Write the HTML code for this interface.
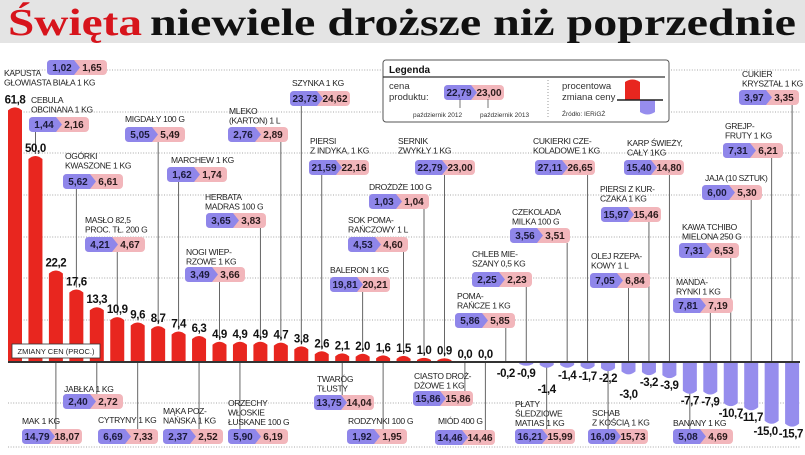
<!DOCTYPE html>
<html><head><meta charset="utf-8"><style>
html,body{margin:0;padding:0;background:#fff;}
svg{display:block;font-family:"Liberation Sans",sans-serif;}
</style></head><body>
<svg id="chart" width="805" height="455" viewBox="0 0 805 455">
<rect x="0" y="0" width="805" height="43" fill="#e4e4e4"/>
<text x="8" y="35" font-family="Liberation Serif,serif" font-weight="bold" font-size="38" fill="#d7141c" textLength="134" lengthAdjust="spacingAndGlyphs">Święta</text>
<text x="150" y="35" font-family="Liberation Serif,serif" font-weight="bold" font-size="38" fill="#111" textLength="646" lengthAdjust="spacingAndGlyphs">niewiele droższe niż poprzednie</text>
<g id="grid"></g>
<g id="conn"></g>
<g id="bars"></g>
<g id="labels"></g>
<g id="legend">
<rect x="383" y="60" width="286" height="62" rx="3" fill="#fff" stroke="#555" stroke-width="1"/>
<text x="389" y="73" font-size="10" font-weight="bold" fill="#111">Legenda</text>
<line x1="383" y1="77" x2="665" y2="77" stroke="#333" stroke-width="1.2"/>
<text x="389" y="89" font-size="9.5" fill="#333">cena</text>
<text x="389" y="100" font-size="9.5" fill="#333">produktu:</text>
<g id="legpill"></g>
<line x1="460" y1="99" x2="460" y2="108" stroke="#555" stroke-width="0.8"/>
<line x1="488" y1="99" x2="488" y2="108" stroke="#555" stroke-width="0.8"/>
<text x="413" y="117" font-size="6.5" fill="#333">październik 2012</text>
<text x="480" y="117" font-size="6.5" fill="#333">październik 2013</text>
<line x1="548" y1="80" x2="548" y2="118" stroke="#999" stroke-dasharray="1,2"/>
<text x="562" y="89" font-size="9.5" fill="#333">procentowa</text>
<text x="562" y="100" font-size="9.5" fill="#333">zmiana ceny</text>
<path d="M625 100 L625 82 Q632.5 77 640 82 L640 100 Z" fill="#e8261f"/>
<path d="M640 100 L640 112 Q647.5 117 655 112 L655 100 Z" fill="#968ded"/>
<line x1="617" y1="100" x2="663" y2="100" stroke="#222" stroke-width="1.5"/>
<text x="562" y="116" font-size="6.5" fill="#333">Źródło: IERiGŻ</text>
</g>
<rect x="12" y="344" width="88" height="14" fill="#fff" stroke="#333" stroke-width="0.8"/>
<text x="56" y="354" font-size="7.5" text-anchor="middle" fill="#222">ZMIANY CEN (PROC.)</text>
<line x1="8" y1="362" x2="800" y2="362" stroke="#333" stroke-width="2"/>
</svg>
<script>
const categories = ["KAPUSTA|GŁOWIASTA BIAŁA 1 KG","CEBULA|OBCINANA 1 KG","MAK 1 KG","OGÓRKI|KWASZONE 1 KG","JABŁKA 1 KG","MASŁO 82,5|PROC. TŁ. 200 G","CYTRYNY 1 KG","MIGDAŁY 100 G","MARCHEW 1 KG","MĄKA POZ-|NAŃSKA 1 KG","NOGI WIEP-|RZOWE 1 KG","ORZECHY|WŁOSKIE|ŁUSKANE 100 G","HERBATA|MADRAS 100 G","MLEKO|(KARTON) 1 L","SZYNKA 1 KG","PIERSI|Z INDYKA, 1 KG","TWARÓG|TŁUSTY","BALERON 1 KG","RODZYNKI 100 G","SOK POMA-|RAŃCZOWY 1 L","DROŻDŻE 100 G","SERNIK|ZWYKŁY 1 KG","CIASTO DROŻ-|DŻOWE 1 KG","MIÓD 400 G","POMA-|RAŃCZE 1 KG","CHLEB MIE-|SZANY 0,5 KG","PŁATY|ŚLEDZIOWE|MATIAS 1 KG","CZEKOLADA|MILKA 100 G","CUKIERKI CZE-|KOLADOWE 1 KG","SCHAB|Z KOŚCIĄ 1 KG","OLEJ RZEPA-|KOWY 1 L","PIERSI Z KUR-|CZAKA 1 KG","KARP ŚWIEŻY,|CAŁY 1KG","BANANY 1 KG","MANDA-|RYNKI 1 KG","KAWA TCHIBO|MIELONA 250 G","JAJA (10 SZTUK)","GREJP-|FRUTY 1 KG","CUKIER|KRYSZTAŁ 1 KG"];
const changes = [61.8,50.0,22.2,17.6,13.3,10.9,9.6,8.7,7.4,6.3,4.9,4.9,4.9,4.7,3.8,2.6,2.1,2.0,1.6,1.5,1.0,0.9,0.0,0.0,-0.2,-0.9,-1.4,-1.4,-1.7,-2.2,-3.0,-3.2,-3.9,-7.7,-7.9,-10.7,-11.7,-15.0,-15.7];
const price2012 = ["1,02","1,44","14,79","5,62","2,40","4,21","6,69","5,05","1,62","2,37","3,49","5,90","3,65","2,76","23,73","21,59","13,75","19,81","1,92","4,53","1,03","22,79","15,86","14,46","5,86","2,25","16,21","3,56","27,11","16,09","7,05","15,97","15,40","5,08","7,81","7,31","6,00","7,31","3,97"];
const price2013 = ["1,65","2,16","18,07","6,61","2,72","4,67","7,33","5,49","1,74","2,52","3,66","6,19","3,83","2,89","24,62","22,16","14,04","20,21","1,95","4,60","1,04","23,00","15,86","14,46","5,85","2,23","15,99","3,51","26,65","15,73","6,84","15,46","14,80","4,69","7,19","6,53","5,30","6,21","3,35"];
/* layout only (not data): label x, label baseline, pill x, pill y */
const layout = [[4,76,47,60],[31,103,29,117],[22,424,22,429],[65,159,63,174],[64,392,63,394],[85,223,85,237],[98,423,98,429],[125,122,125,127],[171,163,167,167],[163,414,163,429],[186,255,185,267],[228,406,228,429],[205,200,206,213],[229,114,228,127],[292,86,290,91],[310,144,309,160],[317,382,314,395],[330,273,330,277],[348,424,347,429],[348,223,348,237],[369,190,369,194],[398,144,415,160],[414,379,413,391],[438,424,435,430],[457,299,455,313],[472,257,472,272],[515,407,515,429],[512,215,510,228],[533,144,535,160],[592,416,588,429],[591,259,590,273],[600,192,601,207],[627,146,624,160],[673,426,673,429],[676,285,673,298],[682,230,679,243],[705,181,702,185],[725,129,723,143],[742,77,739,90]];
const NS = "http://www.w3.org/2000/svg";
const BASE = 362, SCALE = 4.12, X0 = 15, STEP = 20.45, BW = 14;
const xPos = i => X0 + STEP * i;
const yPos = v => BASE - v * SCALE;
function mk(tag, attrs, parent){ const e=document.createElementNS(NS,tag); for(const k in attrs) e.setAttribute(k,attrs[k]); parent.appendChild(e); return e; }
const grid=document.getElementById('grid'), conn=document.getElementById('conn'), bars=document.getElementById('bars'), labels=document.getElementById('labels');
[70,112,153,195,237,278,320,403,447].forEach(y=>{
  const l=mk('line',{x1:8,y1:y,x2:800,y2:y,stroke:'#8a8a8a','stroke-width':0.8,'stroke-dasharray':'1,1.6'},grid);
  
  
});
function pill(px,py,a,b,parent,name){
  const g=mk('g',{},parent);
  
  
  mk('rect',{x:px,y:py,width:60,height:15,rx:4,fill:'#f2b6bb'},g);
  mk('path',{d:`M${px+4} ${py} L${px+27} ${py} L${px+33} ${py+7.5} L${px+27} ${py+15} L${px+4} ${py+15} Q${px} ${py+15} ${px} ${py+11} L${px} ${py+4} Q${px} ${py} ${px+4} ${py} Z`,fill:'#8f86ea'},g);
  const t1=mk('text',{x:px+15,y:py+11,'font-size':10,'font-weight':'bold','text-anchor':'middle',fill:'#1a1a3a'},g); t1.textContent=a;
  const t2=mk('text',{x:px+45,y:py+11,'font-size':10,'font-weight':'bold','text-anchor':'middle',fill:'#2a1a1a'},g); t2.textContent=b;
}
pill(444,85,"22,79","23,00",document.getElementById('legpill'),'legend-price-pill');
changes.forEach((v,i)=>{
  const x=xPos(i), y=yPos(v), L=layout[i];
  const bottom = L[3] > BASE;
  if(i>0){
    let y1,y2;
    if(bottom){ y1=BASE; y2=L[3]; }
    else { y1=L[3]+15; y2= v>0 ? y-2 : BASE; }
    const c=mk('line',{x1:x,y1:y1,x2:x,y2:y2,stroke:'#555','stroke-width':0.9},conn);
    
    
  }
  if(v!==0){
    const x0=x-BW/2, x1=x+BW/2;
    let d;
    if(v>0){ const r=Math.min(3,(BASE-y)/2); d=`M${x0} ${BASE} L${x0} ${y+r} Q${x} ${y-r} ${x1} ${y+r} L${x1} ${BASE} Z`; }
    else { const r=Math.min(3,(y-BASE)/2); d=`M${x0} ${BASE} L${x0} ${y-r} Q${x} ${y+r} ${x1} ${y-r} L${x1} ${BASE} Z`; }
    const b=mk('path',{d:d,fill:v>0?'#e8261f':'#968ded'},bars);
    
    
  }
  let vy, vx=x, anchor='middle';
  if(v>=0) vy = Math.min(y-4, 358);
  else {
    vy = Math.max(y+11, 377);
    if(i===26) vy=393;
    if(i===30) vy=398;
    if(vy>447) vy=447;
    if(i===changes.length-2) vx=x-6;
    if(i===changes.length-1){ vx=803; anchor='end'; }
  }
  const vt=mk('text',{x:vx,y:vy,'font-size':11.5,'font-weight':'bold','text-anchor':anchor,fill:'#111','letter-spacing':'-0.4'},labels);
  vt.textContent=(v.toFixed(1)).replace('.',',');
  
  
  categories[i].split('|').forEach((s,k)=>{
    const t=mk('text',{x:L[0],y:L[1]+k*9.5,'font-size':8.5,fill:'#222','letter-spacing':'-0.3'},labels);
    t.textContent=s;
    
    
  });
  pill(L[2],L[3],price2012[i],price2013[i],labels,'price-pill');
});
</script>
</body></html>
